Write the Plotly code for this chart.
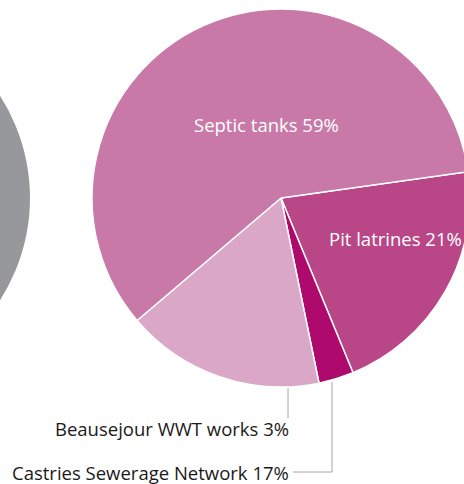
import plotly.graph_objects as go

categories = ["Pit latrines", "Beausejour WWT works", "Castries Sewerage Network", "Septic tanks"]
values = [21, 3, 17, 59]
colors = ["#B94788", "#AE0A6E", "#DBA7C7", "#C879A8"]
label_texts = ["Pit latrines 21%", "Beausejour WWT works 3%", "Castries Sewerage Network 17%", "Septic tanks 59%"]

W, H = 470, 484

def px(x):
    return x / W

def py(y):
    return 1 - y / H

fig = go.Figure()
fig.add_trace(go.Pie(
    labels=categories,
    values=values,
    sort=False,
    direction="clockwise",
    rotation=82,
    marker=dict(colors=colors, line=dict(color="white", width=1.5)),
    textinfo="none",
    hoverinfo="label+percent",
    showlegend=False,
    domain=dict(x=[px(92), px(470)], y=[py(387), py(9)]),
))

FS = 18.5
annotations = [
    dict(text=label_texts[3], x=px(266), y=py(125), xanchor="center", yanchor="middle",
         font=dict(color="white", size=FS)),
    dict(text=label_texts[0], x=px(395), y=py(238), xanchor="center", yanchor="middle",
         font=dict(color="white", size=FS)),
    dict(text=label_texts[1], x=px(291), y=py(428), xanchor="right", yanchor="middle",
         font=dict(color="#1a1a1a", size=FS)),
    dict(text=label_texts[2], x=px(291), y=py(472), xanchor="right", yanchor="middle",
         font=dict(color="#1a1a1a", size=FS)),
]
for a in annotations:
    a.update(xref="paper", yref="paper", showarrow=False)

shapes = [
    dict(type="circle", xref="paper", yref="paper",
         x0=px(-159 - 189), x1=px(-159 + 189), y0=py(198 + 189), y1=py(198 - 189),
         fillcolor="#97989B", line=dict(width=0), layer="below"),
    dict(type="line", xref="paper", yref="paper", x0=px(288), x1=px(288), y0=py(388), y1=py(418),
         line=dict(color="#A6A6A6", width=1)),
    dict(type="path", xref="paper", yref="paper",
         path=f"M {px(332)} {py(382)} L {px(332)} {py(472)} L {px(293)} {py(472)}",
         line=dict(color="#A6A6A6", width=1)),
]

fig.update_layout(
    width=W, height=H,
    margin=dict(l=0, r=0, t=0, b=0),
    paper_bgcolor="white",
    plot_bgcolor="white",
    font=dict(family="Open Sans, sans-serif", size=FS),
    annotations=annotations,
    shapes=shapes,
)

fig.write_html(
    "out.html",
    config={"displayModeBar": False},
    post_script="document.body.style.margin='0';document.body.style.overflow='hidden';",
)
